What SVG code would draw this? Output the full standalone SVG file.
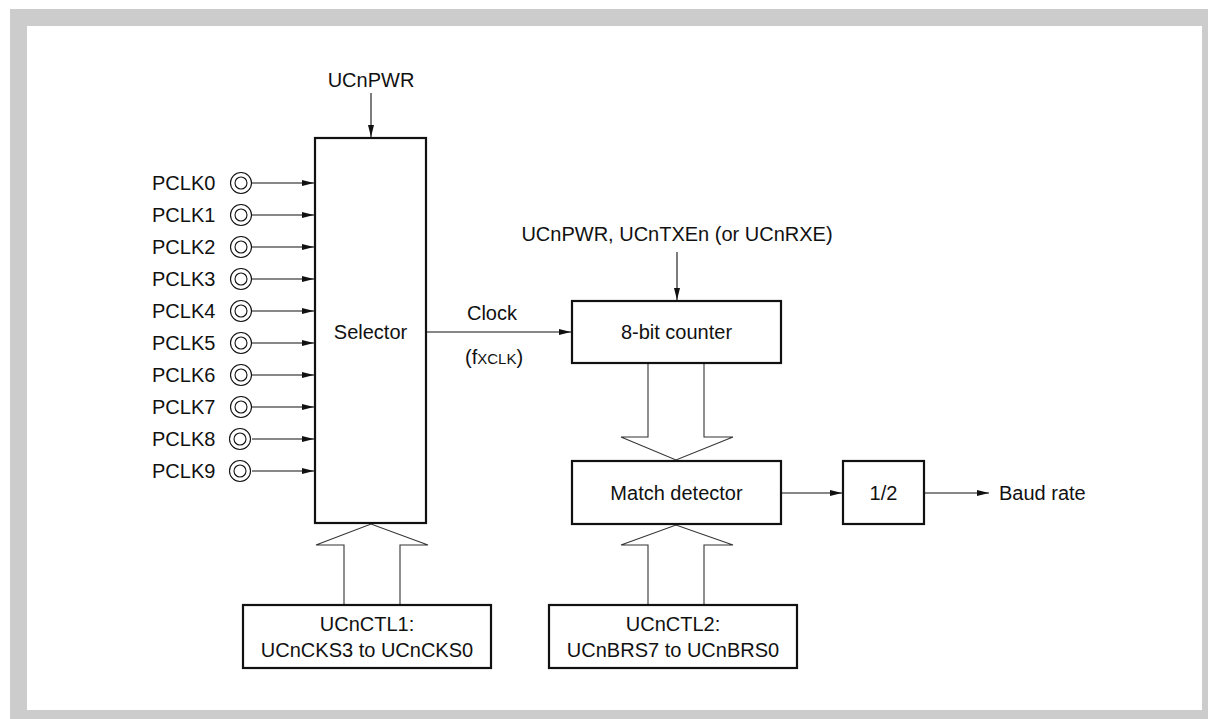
<svg xmlns="http://www.w3.org/2000/svg" width="1208" height="719" viewBox="0 0 1208 719">
<defs>
<style>
text{font-family:"Liberation Sans",Arial,sans-serif;font-size:20px;fill:#111}
.box{fill:#fff;stroke:#111;stroke-width:2.2}
.ln{fill:none;stroke:#111;stroke-width:1.1}
.hollow{fill:#fff;stroke:#333;stroke-width:1.1}
.pin{fill:#fff;stroke:#111;stroke-width:1.1}
.c{text-anchor:middle}
</style>
<marker id="ah" markerWidth="12" markerHeight="8" refX="12" refY="4" orient="auto" markerUnits="userSpaceOnUse">
<path d="M0,1 L12,4 L0,7 Z" fill="#111"/>
</marker>
</defs>
<rect x="0" y="0" width="1208" height="719" fill="#fff"/>
<path d="M10,9 H1208 V719 H10 Z M27,26 V710 H1202 V26 Z" fill="#cccccc" fill-rule="evenodd"/>

<g id="connectors">
<line class="ln" x1="371" y1="93" x2="371" y2="137" marker-end="url(#ah)"/>
<line class="ln" x1="252" y1="183" x2="314" y2="183" marker-end="url(#ah)"/>
<line class="ln" x1="252" y1="215" x2="314" y2="215" marker-end="url(#ah)"/>
<line class="ln" x1="252" y1="247" x2="314" y2="247" marker-end="url(#ah)"/>
<line class="ln" x1="252" y1="279" x2="314" y2="279" marker-end="url(#ah)"/>
<line class="ln" x1="252" y1="311" x2="314" y2="311" marker-end="url(#ah)"/>
<line class="ln" x1="252" y1="343" x2="314" y2="343" marker-end="url(#ah)"/>
<line class="ln" x1="252" y1="375" x2="314" y2="375" marker-end="url(#ah)"/>
<line class="ln" x1="252" y1="407" x2="314" y2="407" marker-end="url(#ah)"/>
<line class="ln" x1="252" y1="439" x2="314" y2="439" marker-end="url(#ah)"/>
<line class="ln" x1="252" y1="471" x2="314" y2="471" marker-end="url(#ah)"/>
<line class="ln" x1="427" y1="332" x2="571" y2="332" marker-end="url(#ah)"/>
<line class="ln" x1="677" y1="252" x2="677" y2="300" marker-end="url(#ah)"/>
<line class="ln" x1="782" y1="493" x2="842" y2="493" marker-end="url(#ah)"/>
<line class="ln" x1="925" y1="493" x2="989" y2="493" marker-end="url(#ah)"/>
<path class="hollow" d="M344,605 V545 H316 L371,524 L428,545 H400 V605"/>
<path class="hollow" d="M648,364 V437 H621 L676,460 L733,437 H704 V364"/>
<path class="hollow" d="M648,605 V545 H621 L676,525 L733,545 H704 V605"/>
</g>

<g id="labels">
<text class="c" x="371" y="87">UCnPWR</text>
<text class="c" x="677" y="241">UCnPWR, UCnTXEn (or UCnRXE)</text>
<text class="c" x="492" y="320">Clock</text>
<text x="465" y="364">(f<tspan font-size="15">XCLK</tspan>)</text>
<text x="999" y="500">Baud rate</text>
</g>

<g id="pins">
<g id="pclk0"><text x="152" y="190">PCLK0</text><circle class="pin" cx="241" cy="183" r="10.5"/><circle class="pin" cx="241" cy="183" r="6"/></g>
<g id="pclk1"><text x="152" y="222">PCLK1</text><circle class="pin" cx="241" cy="215" r="10.5"/><circle class="pin" cx="241" cy="215" r="6"/></g>
<g id="pclk2"><text x="152" y="254">PCLK2</text><circle class="pin" cx="241" cy="247" r="10.5"/><circle class="pin" cx="241" cy="247" r="6"/></g>
<g id="pclk3"><text x="152" y="286">PCLK3</text><circle class="pin" cx="241" cy="279" r="10.5"/><circle class="pin" cx="241" cy="279" r="6"/></g>
<g id="pclk4"><text x="152" y="318">PCLK4</text><circle class="pin" cx="241" cy="311" r="10.5"/><circle class="pin" cx="241" cy="311" r="6"/></g>
<g id="pclk5"><text x="152" y="350">PCLK5</text><circle class="pin" cx="241" cy="343" r="10.5"/><circle class="pin" cx="241" cy="343" r="6"/></g>
<g id="pclk6"><text x="152" y="382">PCLK6</text><circle class="pin" cx="241" cy="375" r="10.5"/><circle class="pin" cx="241" cy="375" r="6"/></g>
<g id="pclk7"><text x="152" y="414">PCLK7</text><circle class="pin" cx="241" cy="407" r="10.5"/><circle class="pin" cx="241" cy="407" r="6"/></g>
<g id="pclk8"><text x="152" y="446">PCLK8</text><circle class="pin" cx="240" cy="439" r="10.5"/><circle class="pin" cx="240" cy="439" r="6"/></g>
<g id="pclk9"><text x="152" y="478">PCLK9</text><circle class="pin" cx="240" cy="471" r="10.5"/><circle class="pin" cx="240" cy="471" r="6"/></g>
</g>

<g id="selector">
<rect class="box" x="315" y="138" width="111" height="385"/>
<text class="c" x="370.5" y="339">Selector</text>
</g>

<g id="counter">
<rect class="box" x="572" y="301" width="209" height="62"/>
<text class="c" x="676.5" y="339">8-bit counter</text>
</g>

<g id="match">
<rect class="box" x="572" y="461" width="209" height="63"/>
<text class="c" x="676.5" y="500">Match detector</text>
</g>

<g id="half">
<rect class="box" x="843" y="461" width="81" height="63"/>
<text class="c" x="883.5" y="500">1/2</text>
</g>

<g id="ctl1">
<rect class="box" x="243" y="605" width="248" height="63"/>
<text class="c" x="367" y="631">UCnCTL1:</text>
<text class="c" x="367" y="657">UCnCKS3 to UCnCKS0</text>
</g>

<g id="ctl2">
<rect class="box" x="549" y="605" width="248" height="63"/>
<text class="c" x="673" y="631">UCnCTL2:</text>
<text class="c" x="673" y="657">UCnBRS7 to UCnBRS0</text>
</g>
</svg>
